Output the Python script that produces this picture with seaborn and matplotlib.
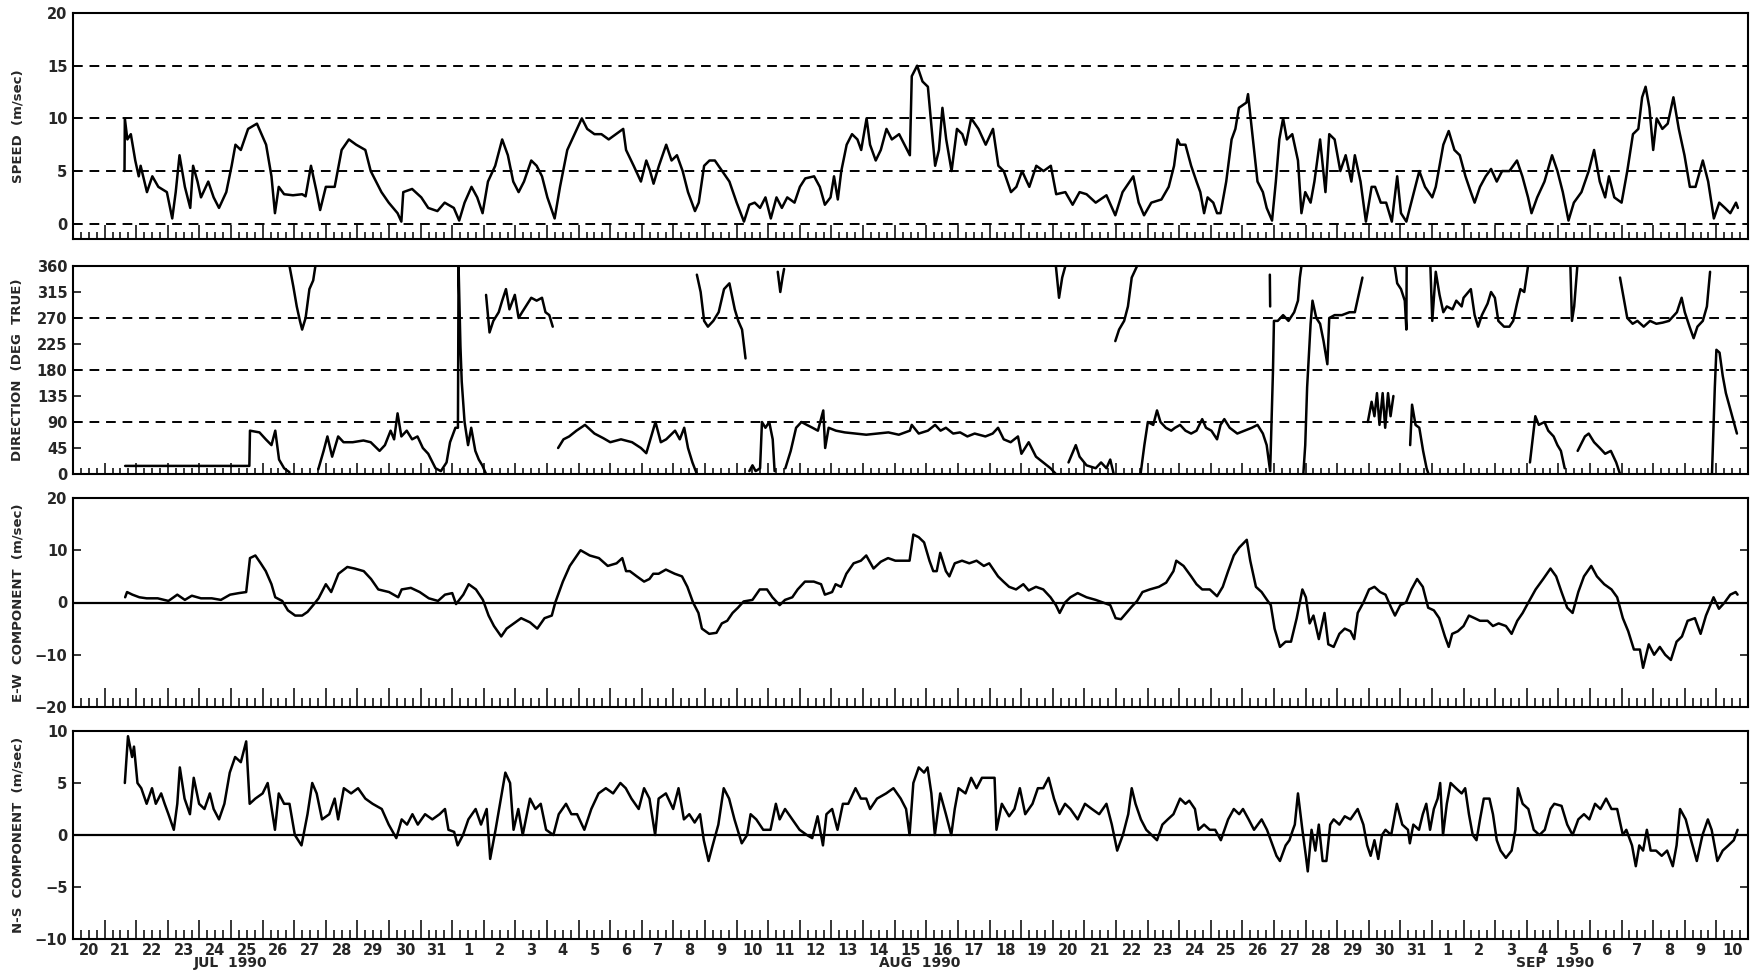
import numpy as np
import pandas as pd
import matplotlib
matplotlib.use("Agg")
import matplotlib.pyplot as plt
import matplotlib.transforms as mtransforms
import seaborn as sns

# ---------------- data: (days since 20 Jul 1990 00:00, value) ----------------
speed_obs = [(1.63,5.0),(1.64,10.0),(1.72,8.0),(1.83,8.5),(1.97,6.0),(2.08,4.5),(2.14,5.5),(2.34,3.0),(2.51,4.5),(2.7,3.5),(2.97,3.0),(3.14,0.5),(3.25,3.0),(3.37,6.5),(3.54,3.5),(3.71,1.5),(3.8,5.5),(3.94,4.0),(4.05,2.5),(4.28,4.0),(4.45,2.5),(4.62,1.5),(4.85,3.0),(5.02,5.5),(5.14,7.5),(5.31,7.0),(5.54,9.0),(5.82,9.5),(6.11,7.5),(6.28,4.5),(6.39,1.0),(6.51,3.5),(6.68,2.8),(6.96,2.7),(7.25,2.8),(7.36,2.6),(7.53,5.5),(7.71,3.0),(7.82,1.3),(8.0,3.5),(8.28,3.5),(8.5,7.0),(8.73,8.0),(8.96,7.5),(9.25,7.0),(9.42,5.0),(9.76,3.0),(9.99,2.0),(10.27,1.0),(10.39,0.2),(10.45,3.0),(10.73,3.3),(11.02,2.5),(11.24,1.5),(11.53,1.2),(11.76,2.0),(12.05,1.5),(12.22,0.3),(12.39,2.0),(12.61,3.5),(12.79,2.5),(12.96,1.0),(13.13,4.0),(13.36,5.5),(13.58,8.0),(13.76,6.5),(13.93,4.0),(14.1,3.0),(14.27,4.0),(14.5,6.0),(14.67,5.5),(14.84,4.5),(15.01,2.5),(15.24,0.5),(15.41,3.5),(15.64,7.0),(15.87,8.5),(16.1,10.0),(16.27,9.0),(16.5,8.5),(16.72,8.5),(16.95,8.0),(17.18,8.5),(17.41,9.0),(17.5,7.0),(17.74,5.5),(17.97,4.0),(18.14,6.0),(18.26,5.0),(18.37,3.8),(18.54,5.5),(18.77,7.5),(18.94,6.0),(19.11,6.5),(19.29,5.0),(19.46,3.0),(19.68,1.2),(19.8,2.0),(19.97,5.5),(20.14,6.0),(20.31,6.0),(20.54,5.0),(20.77,4.0),(21.0,2.0),(21.23,0.2),(21.4,1.8),(21.57,2.0),(21.74,1.5),(21.91,2.5),(22.08,0.5),(22.26,2.5),(22.43,1.5),(22.6,2.5),(22.83,2.0),(23.0,3.5),(23.17,4.3),(23.45,4.5),(23.63,3.5),(23.79,1.8),(23.97,2.5),(24.08,4.5),(24.2,2.3),(24.31,5.0),(24.48,7.5),(24.65,8.5),(24.82,8.0),(24.94,7.0),(25.11,10.0),(25.22,7.5),(25.4,6.0),(25.56,7.0),(25.74,9.0),(25.91,8.0),(26.14,8.5),(26.31,7.5),(26.48,6.5),(26.54,14.0),(26.71,15.0),(26.88,13.5),(27.05,13.0),(27.2,8.0),(27.28,5.5),(27.4,7.0),(27.51,11.0),(27.63,8.0),(27.8,5.0),(27.97,9.0),(28.14,8.5),(28.25,7.5),(28.42,10.0),(28.65,9.0),(28.88,7.5),(29.11,9.0),(29.28,5.5),(29.45,5.0),(29.68,3.0),(29.85,3.5),(30.03,5.0),(30.26,3.5),(30.48,5.5),(30.71,5.0),(30.94,5.5),(31.11,2.8),(31.4,3.0),(31.63,1.8),(31.85,3.0),(32.07,2.8),(32.36,2.0),(32.7,2.7),(32.98,0.8),(33.21,3.0),(33.55,4.5),(33.72,2.0),(33.89,0.8),(34.12,2.0),(34.44,2.3),(34.67,3.5),(34.84,5.5),(34.95,8.0),(35.03,7.5),(35.2,7.5),(35.38,5.5),(35.55,4.0),(35.67,3.0),(35.79,1.0),(35.9,2.5),(36.08,2.0),(36.2,1.0),(36.31,1.0),(36.49,4.0),(36.66,8.0),(36.78,9.0),(36.89,11.0),(37.13,11.5),(37.18,12.3),(37.3,9.0),(37.48,4.0),(37.65,3.0),(37.77,1.5),(37.94,0.3),(38.06,4.0),(38.17,8.0),(38.29,10.0),(38.41,8.0),(38.58,8.5),(38.76,6.0),(38.87,1.0),(38.99,3.0),(39.16,2.0),(39.28,4.0),(39.46,8.0),(39.63,3.0),(39.75,8.5),(39.92,8.0),(40.1,5.0),(40.27,6.5),(40.45,4.0),(40.56,6.5),(40.74,4.0),(40.91,0.2),(41.09,3.5),(41.2,3.5),(41.38,2.0),(41.55,2.0),(41.73,0.2),(41.9,4.5),(42.02,1.0),(42.19,0.2),(42.43,3.0),(42.6,5.0),(42.78,3.5),(43.01,2.5),(43.12,3.5),(43.36,7.5),(43.53,8.8),(43.71,7.0),(43.88,6.5),(44.06,4.5),(44.23,3.0),(44.35,2.0),(44.52,3.5),(44.7,4.5),(44.87,5.2),(45.05,4.0),(45.22,5.0),(45.45,5.0),(45.69,6.0),(45.86,4.5),(46.04,2.5),(46.15,1.0),(46.33,2.5),(46.56,4.0),(46.8,6.5),(46.97,5.0),(47.14,3.0),(47.32,0.3),(47.49,2.0),(47.73,3.0),(47.96,5.0),(48.13,7.0),(48.31,4.0),(48.48,2.5),(48.6,4.5),(48.77,2.5),(49.0,2.0),(49.18,5.0),(49.36,8.5),(49.53,9.0),(49.65,12.0),(49.76,13.0),(49.88,11.0),(50.0,7.0),(50.11,10.0),(50.29,9.0),(50.46,9.5),(50.64,12.0),(50.81,9.0),(50.99,6.5),(51.16,3.5),(51.34,3.5),(51.57,6.0),(51.74,4.0),(51.92,0.5),(52.09,2.0),(52.27,1.5),(52.44,1.0),(52.62,2.0),(52.68,1.5)]

GAP = (np.nan, np.nan)
direction_obs = [(1.65,14),(2.5,14),(3.5,14),(4.5,14),(5.58,14),(5.6,75),(5.9,72),(6.1,60),(6.28,50),(6.4,75),(6.52,25),(6.68,10),(6.85,3), GAP,
    (6.85,360),(6.97,325),(7.08,290),(7.18,265),(7.25,250),(7.36,270),(7.48,320),(7.6,335),(7.67,360), GAP,
    (7.76,8),(7.93,40),(8.05,65),(8.2,30),(8.39,65),(8.56,55),(8.85,55),(9.19,58),(9.42,55),(9.7,40),(9.87,50),(10.05,75),(10.16,60),(10.27,105),(10.39,65),(10.56,75),(10.73,60),(10.9,65),(11.07,45),(11.24,35),(11.47,10),(11.64,5),(11.82,20),(11.93,55),(12.1,80),(12.18,80),(12.2,360),(12.26,220),(12.3,160),(12.39,90),(12.5,50),(12.6,80),(12.73,40),(12.84,25),(12.95,15),(13.07,0), GAP,
    (13.07,310),(13.18,245),(13.3,265),(13.47,280),(13.58,300),(13.7,320),(13.81,285),(13.98,310),(14.1,270),(14.21,280),(14.5,305),(14.67,300),(14.84,305),(14.95,280),(15.07,275),(15.18,255), GAP,
    (15.35,45),(15.52,60),(15.7,65),(15.93,75),(16.2,85),(16.5,70),(16.78,62),(17.0,55),(17.34,60),(17.69,55),(17.97,45),(18.14,36),(18.43,90),(18.6,55),(18.77,60),(19.05,75),(19.2,60),(19.34,80),(19.46,45),(19.6,20),(19.74,0), GAP,
    (19.74,345),(19.86,315),(19.97,265),(20.09,255),(20.26,265),(20.43,280),(20.6,320),(20.77,330),(20.94,285),(21.05,265),(21.17,250),(21.28,200), GAP,
    (21.4,5),(21.5,15),(21.6,5),(21.74,10),(21.8,90),(21.91,80),(22.03,90),(22.14,60),(22.2,5), GAP,
    (22.3,350),(22.38,315),(22.45,340),(22.5,355), GAP,
    (22.54,10),(22.71,40),(22.88,80),(23.05,90),(23.22,85),(23.4,80),(23.57,75),(23.74,110),(23.8,45),(23.91,80),(24.14,75),(24.42,72),(24.76,70),(25.1,68),(25.45,70),(25.8,72),(26.13,68),(26.48,75),(26.54,85),(26.76,70),(27.05,75),(27.28,85),(27.45,75),(27.62,80),(27.85,70),(28.07,72),(28.3,65),(28.53,70),(28.87,65),(29.1,70),(29.27,80),(29.45,60),(29.67,55),(29.9,65),(30.01,35),(30.24,55),(30.47,30),(30.7,20),(30.93,10),(31.1,0), GAP,
    (31.1,360),(31.2,305),(31.3,340),(31.4,360), GAP,
    (31.5,20),(31.73,50),(31.85,30),(32.07,15),(32.36,10),(32.53,20),(32.7,10),(32.82,25),(32.93,0), GAP,
    (32.98,230),(33.1,250),(33.26,265),(33.38,290),(33.5,340),(33.67,360), GAP,
    (33.78,0),(33.9,50),(34.01,90),(34.18,85),(34.3,110),(34.41,90),(34.58,80),(34.75,75),(34.87,80),(35.03,85),(35.2,75),(35.38,70),(35.55,75),(35.73,95),(35.85,80),(36.02,75),(36.2,60),(36.31,85),(36.43,95),(36.6,80),(36.84,70),(37.07,75),(37.3,80),(37.48,85),(37.65,70),(37.77,50),(37.88,5),(37.97,180),(38.0,265),(38.12,265),(38.29,275),(38.46,265),(38.64,280),(38.76,300),(38.82,340),(38.87,360), GAP,
    (37.87,345),(37.88,290), GAP,
    (38.93,0),(38.99,50),(39.05,150),(39.16,260),(39.22,300),(39.34,270),(39.46,260),(39.57,230),(39.69,190),(39.75,270),(39.92,275),(40.15,275),(40.39,280),(40.56,280),(40.68,310),(40.8,340), GAP,
    (40.97,90),(41.09,125),(41.18,100),(41.26,140),(41.34,85),(41.44,140),(41.52,80),(41.61,140),(41.69,100),(41.78,135), GAP,
    (41.82,360),(41.9,330),(42.02,320),(42.14,300),(42.19,250),(42.2,360), GAP,
    (42.31,50),(42.37,120),(42.48,85),(42.6,80),(42.72,40),(42.83,10),(42.89,0), GAP,
    (42.95,360),(43.01,265),(43.12,350),(43.24,310),(43.36,280),(43.47,290),(43.65,285),(43.77,300),(43.94,290),(44.0,305),(44.23,320),(44.35,275),(44.46,255),(44.58,275),(44.76,295),(44.87,315),(44.99,305),(45.1,265),(45.28,255),(45.45,255),(45.57,265),(45.69,295),(45.8,320),(45.92,315),(46.04,360), GAP,
    (46.1,20),(46.27,100),(46.38,85),(46.56,90),(46.68,75),(46.85,65),(46.97,50),(47.08,40),(47.2,10), GAP,
    (47.38,360),(47.43,265),(47.5,290),(47.6,360), GAP,
    (47.61,40),(47.84,65),(47.96,70),(48.13,55),(48.31,45),(48.48,35),(48.66,40),(48.83,20),(48.95,0), GAP,
    (48.95,340),(49.18,270),(49.35,260),(49.5,265),(49.7,255),(49.9,265),(50.1,260),(50.3,262),(50.5,265),(50.75,280),(50.9,305),(51.0,280),(51.15,255),(51.28,235),(51.4,255),(51.57,265),(51.7,290),(51.8,350), GAP,
    (51.86,0),(51.95,150),(52.0,215),(52.1,210),(52.2,170),(52.3,140),(52.45,110),(52.55,90),(52.65,70)]

ew_obs = [(1.65,1.0),(1.71,2.0),(1.88,1.5),(2.1,1.0),(2.33,0.8),(2.68,0.8),(3.02,0.3),(3.3,1.5),(3.54,0.5),(3.76,1.3),(4.05,0.8),(4.39,0.8),(4.68,0.5),(4.97,1.5),(5.25,1.8),(5.48,2.0),(5.6,8.5),(5.77,9.0),(5.94,7.5),(6.1,6.0),(6.28,3.5),(6.4,1.0),(6.62,0.3),(6.8,-1.5),(7.03,-2.5),(7.25,-2.5),(7.42,-1.8),(7.6,-0.5),(7.77,0.8),(8.0,3.5),(8.17,2.0),(8.4,5.5),(8.68,6.8),(8.91,6.5),(9.2,6.0),(9.43,4.5),(9.66,2.5),(10.0,2.0),(10.29,1.0),(10.4,2.5),(10.69,2.8),(10.97,2.0),(11.26,0.8),(11.55,0.3),(11.77,1.5),(12.0,1.8),(12.12,-0.3),(12.35,1.5),(12.52,3.5),(12.75,2.5),(12.97,0.5),(13.15,-2.5),(13.32,-4.5),(13.55,-6.5),(13.72,-5.0),(13.95,-4.0),(14.18,-3.0),(14.46,-3.8),(14.69,-5.0),(14.92,-3.0),(15.15,-2.5),(15.26,0.0),(15.5,4.0),(15.72,7.0),(16.06,10.0),(16.35,9.0),(16.64,8.5),(16.92,7.0),(17.2,7.5),(17.38,8.5),(17.5,6.0),
    (17.62,6.0),(17.84,5.0),(18.07,4.0),(18.24,4.5),(18.36,5.5),(18.53,5.5),(18.76,6.3),(19.04,5.5),(19.27,5.0),(19.44,3.0),(19.62,0.0),(19.79,-2.0),(19.9,-5.0),(20.13,-6.0),(20.36,-5.8),(20.53,-4.0),(20.7,-3.5),(20.87,-2.0),(21.04,-1.0),(21.22,0.2),(21.5,0.5),(21.73,2.5),(21.96,2.5),(22.13,1.0),(22.36,-0.5),(22.53,0.5),(22.76,1.0),(22.93,2.5),(23.16,4.0),(23.44,4.0),(23.67,3.5),(23.79,1.5),(24.02,2.0),(24.13,3.5),(24.3,3.0),(24.47,5.5),(24.7,7.5),(24.93,8.0),(25.1,9.0),(25.33,6.5),(25.56,7.8),(25.79,8.5),(26.02,8.0),(26.3,8.0),(26.47,8.0),(26.59,13.0),(26.76,12.5),(26.93,11.5),(27.1,8.0),(27.22,6.0),(27.33,6.0),(27.44,9.5),(27.62,6.0),(27.73,5.0),(27.9,7.5),(28.13,8.0),(28.36,7.5),(28.59,8.0),(28.82,7.0),(28.99,7.5),(29.16,6.0),(29.27,5.0),(29.44,4.0),(29.62,3.0),(29.84,2.5),(30.07,3.5),(30.24,2.3),(30.47,3.0),(30.7,2.5),(30.93,1.0),(31.1,-0.5),(31.22,-2.0),(31.39,0.0),(31.56,1.0),(31.79,1.8),(32.07,1.0),(32.36,0.5),(32.59,0.0),(32.82,-0.5),(32.99,-3.0),(33.16,-3.2),(33.33,-2.0),(33.5,-0.8),(33.67,0.3),(33.84,2.0),(34.07,2.5),(34.36,3.0),(34.59,3.8),(34.82,6.0),
    (34.91,8.0),(35.14,7.0),(35.38,5.0),(35.55,3.5),(35.73,2.5),(35.97,2.5),(36.2,1.2),(36.38,3.0),(36.55,6.0),(36.73,9.0),(36.9,10.5),(37.14,12.0),(37.25,8.0),(37.43,3.0),(37.61,2.0),(37.78,0.5),(37.9,-0.5),(38.02,-5.0),(38.19,-8.5),(38.37,-7.5),(38.54,-7.5),(38.72,-3.0),(38.9,2.5),(39.01,1.0),(39.13,-4.0),(39.25,-2.5),(39.42,-7.0),(39.6,-2.0),(39.72,-8.0),(39.89,-8.5),(40.07,-6.0),(40.24,-5.0),(40.42,-5.5),(40.54,-7.0),(40.65,-2.0),(40.83,0.0),(41.01,2.5),(41.18,3.0),(41.36,2.0),(41.53,1.5),(41.71,-1.0),(41.83,-2.5),(42.0,-0.5),(42.18,0.0),(42.35,2.5),(42.53,4.5),(42.71,3.0),(42.88,-1.0),(43.06,-1.5),(43.23,-3.0),(43.41,-6.5),(43.53,-8.5),(43.64,-6.0),(43.82,-5.5),(44.0,-4.5),(44.17,-2.5),(44.35,-3.0),(44.52,-3.5),(44.76,-3.5),(44.93,-4.5),(45.11,-4.0),(45.34,-4.5),(45.52,-6.0),(45.7,-3.5),(45.87,-2.0),(46.05,0.0),(46.28,2.5),(46.52,4.5),(46.75,6.5),(46.93,5.0),(47.1,2.0),(47.28,-1.0),(47.45,-2.0),(47.63,2.0),(47.81,5.0),(48.04,7.0),(48.22,5.0),(48.45,3.5),(48.68,2.5),(48.86,1.0),(49.04,-3.0),(49.21,-5.5),(49.39,-9.0),(49.58,-9.0),(49.68,-12.5),(49.86,-8.0),(50.03,-10.0),(50.21,-8.5),(50.38,-10.0),(50.56,-11.0),(50.74,-7.5),(50.91,-6.5),(51.09,-3.5),(51.32,-3.0),(51.5,-6.0),(51.67,-2.5),(51.91,1.0),(52.08,-1.2),(52.26,0.0),(52.44,1.5),(52.61,2.0),(52.67,1.5)]

ns_obs = [(1.64,5.0),(1.74,9.5),(1.87,7.5),(1.93,8.5),(2.04,5.0),(2.16,4.5),(2.33,3.0),(2.5,4.5),(2.62,3.0),(2.79,4.0),(2.9,3.0),(3.02,2.0),(3.19,0.5),(3.3,3.0),(3.38,6.5),(3.53,3.5),(3.7,2.0),(3.82,5.5),(3.99,3.0),(4.16,2.5),(4.33,4.0),(4.45,2.5),(4.62,1.5),(4.79,3.0),(4.96,6.0),(5.13,7.5),(5.31,7.0),(5.48,9.0),(5.59,3.0),(5.77,3.5),(6.0,4.0),(6.16,5.0),(6.39,0.5),(6.51,4.0),(6.68,3.0),(6.85,3.0),(7.02,0.0),(7.23,-1.0),(7.42,2.0),(7.57,5.0),(7.71,4.0),(7.88,1.5),(8.11,2.0),(8.28,3.5),(8.39,1.5),(8.57,4.5),(8.8,4.0),(9.02,4.5),(9.25,3.5),(9.48,3.0),(9.77,2.5),(9.99,1.0),(10.23,-0.3),(10.4,1.5),(10.57,1.0),(10.74,2.0),(10.91,1.0),(11.14,2.0),(11.37,1.5),(11.6,2.0),(11.77,2.5),(11.88,0.5),(12.06,0.3),(12.17,-1.0),(12.34,0.0),(12.51,1.5),(12.74,2.5),(12.91,1.0),(13.09,2.5),(13.2,-2.3),(13.37,0.5),(13.54,3.5),(13.68,6.0),(13.83,5.0),(13.94,0.5),(14.09,2.5),(14.23,0.0),(14.46,3.5),(14.63,2.5),(14.8,3.0),(14.97,0.5),(15.2,0.0),(15.37,2.0),(15.6,3.0),(15.77,2.0),(15.95,2.0),(16.18,0.5),(16.4,2.5),(16.63,4.0),(16.86,4.5),(17.09,4.0),(17.32,5.0),(17.49,4.5),
    (17.67,3.5),(17.9,2.5),(18.07,4.5),(18.24,3.5),(18.42,0.0),(18.53,3.5),(18.76,4.0),(18.99,2.5),(19.16,4.5),(19.33,1.5),(19.5,2.0),(19.67,1.2),(19.84,2.0),(19.96,-0.5),(20.11,-2.5),(20.24,-1.0),(20.42,1.0),(20.59,4.5),(20.76,3.5),(20.93,1.5),(21.16,-0.8),(21.33,0.0),(21.44,2.0),(21.62,1.5),(21.84,0.5),(22.07,0.5),(22.24,3.0),(22.36,1.5),(22.53,2.5),(22.76,1.5),(22.99,0.5),(23.22,0.0),(23.39,-0.3),(23.56,1.8),(23.67,0.0),(23.73,-1.0),(23.84,2.0),(24.02,2.5),(24.19,0.5),(24.36,3.0),(24.53,3.0),(24.76,4.5),(24.93,3.5),(25.1,3.5),(25.22,2.5),(25.44,3.5),(25.73,4.0),(25.96,4.5),(26.19,3.5),(26.36,2.5),(26.47,0.0),(26.59,5.0),(26.76,6.5),(26.93,6.0),(27.04,6.5),(27.16,4.0),(27.27,0.0),(27.44,4.0),(27.62,2.0),(27.79,0.0),(27.9,2.5),(28.02,4.5),(28.24,4.0),(28.42,5.5),(28.59,4.5),(28.76,5.5),(28.99,5.5),(29.16,5.5),(29.22,0.5),(29.39,3.0),(29.62,1.8),(29.79,2.5),(29.96,4.5),(30.13,2.0),(30.36,3.0),(30.53,4.5),(30.7,4.5),(30.87,5.5),(31.04,3.5),(31.21,2.0),(31.39,3.0),(31.56,2.5),(31.79,1.5),(32.02,3.0),(32.24,2.5),(32.47,2.0),(32.7,3.0),(32.87,1.0),(33.04,-1.5),(33.22,0.0),(33.39,2.0),(33.5,4.5),(33.62,3.0),(33.79,1.5),(33.96,0.5),(34.13,0.0),(34.3,-0.5),(34.47,1.0),(34.64,1.5),(34.82,2.0),
    (35.03,3.5),(35.2,3.0),(35.32,3.3),(35.5,2.5),(35.61,0.5),(35.79,1.0),(35.97,0.5),(36.14,0.5),(36.32,-0.5),(36.55,1.5),(36.73,2.5),(36.9,2.0),(37.02,2.5),(37.2,1.5),(37.37,0.5),(37.61,1.5),(37.78,0.5),(37.96,-1.0),(38.08,-2.0),(38.19,-2.5),(38.37,-1.0),(38.49,-0.5),(38.6,0.5),(38.66,1.0),(38.76,4.0),(38.9,0.5),(39.01,-2.0),(39.07,-3.5),(39.19,0.5),(39.31,-1.5),(39.42,1.0),(39.54,-2.5),(39.66,-2.5),(39.78,1.0),(39.89,1.5),(40.07,1.0),(40.24,1.8),(40.42,1.5),(40.65,2.5),(40.83,1.0),(40.95,-1.0),(41.06,-2.0),(41.18,-0.5),(41.3,-2.3),(41.42,0.0),(41.53,0.5),(41.71,0.0),(41.89,3.0),(42.06,1.0),(42.24,0.5),(42.3,-0.8),(42.41,1.0),(42.59,0.5),(42.71,2.0),(42.82,3.0),(42.94,0.5),(43.06,2.5),(43.18,3.5),(43.26,5.0),(43.35,0.0),(43.47,3.0),(43.59,5.0),(43.76,4.5),(43.94,4.0),(44.05,4.5),(44.17,2.0),(44.29,0.0),(44.41,-0.5),(44.52,1.5),(44.64,3.5),(44.82,3.5),(44.93,2.0),(45.05,-0.5),(45.17,-1.5),(45.34,-2.2),(45.52,-1.5),(45.64,0.5),(45.72,4.5),(45.87,3.0),(46.05,2.5),(46.22,0.5),(46.4,0.0),(46.57,0.5),(46.75,2.5),(46.87,3.0),(47.1,2.8),(47.28,1.0),(47.45,0.0),(47.63,1.5),(47.81,2.0),(47.98,1.5),(48.16,3.0),(48.33,2.5),(48.51,3.5),(48.68,2.5),(48.86,2.5),(49.04,0.0),(49.15,0.5),(49.33,-1.0),(49.45,-3.0),(49.56,-1.0),(49.68,-1.5),(49.8,0.5),(49.92,-1.5),(50.09,-1.5),(50.27,-2.0),(50.44,-1.5),(50.62,-3.0),(50.74,-1.0),(50.85,2.5),(51.03,1.5),(51.2,-0.5),(51.38,-2.5),(51.56,0.0),(51.73,1.5),(51.85,0.5),(52.03,-2.5),(52.2,-1.5),(52.38,-1.0),(52.55,-0.5),(52.67,0.5)]

first_day = pd.Timestamp("1990-07-20")
n_days = 53
month_labels = ["JUL  1990", "AUG  1990", "SEP  1990"]
month_label_day = [5.0, 26.8, 46.9]
speed_ticks = [0, 5, 10, 15, 20]
speed_ref = [0, 5, 10, 15]
dir_ticks = [0, 45, 90, 135, 180, 225, 270, 315, 360]
dir_ref = [90, 180, 270]
ew_ticks = [-20, -10, 0, 10, 20]
ns_ticks = [-10, -5, 0, 5, 10]

# ---------------- figure ----------------
sns.set_theme(style="white")
plt.rcParams["font.family"] = ["DejaVu Sans"]
plt.rcParams["font.weight"] = "bold"

W_PX, H_PX = 1757, 975
fig = plt.figure(figsize=(W_PX / 100, H_PX / 100), dpi=100)
LEFT, RIGHT = 73, 1748

def box(top, bottom):
    return [LEFT / W_PX, 1 - bottom / H_PX, (RIGHT - LEFT) / W_PX, (bottom - top) / H_PX]

ax_s = fig.add_axes(box(13, 239))
ax_d = fig.add_axes(box(266, 474))
ax_e = fig.add_axes(box(498, 707))
ax_n = fig.add_axes(box(731, 939))

def frame(pairs):
    return pd.DataFrame(pairs, columns=["day", "val"])

line_kw = dict(color="black", linewidth=1.8, estimator=None, sort=False)

sns.lineplot(data=frame(speed_obs), x="day", y="val", ax=ax_s, **line_kw)
ddf = frame(direction_obs)
ddf["seg"] = ddf["val"].isna().cumsum()
ddf = ddf.dropna()
sns.lineplot(data=ddf, x="day", y="val", units="seg", ax=ax_d, **line_kw)
sns.lineplot(data=frame(ew_obs), x="day", y="val", ax=ax_e, **line_kw)
sns.lineplot(data=frame(ns_obs), x="day", y="val", ax=ax_n, **line_kw)

for v in speed_ref:
    ax_s.axhline(v, color="black", lw=1.4, ls=(0, (5, 3.5)), zorder=1)
for v in dir_ref:
    ax_d.axhline(v, color="black", lw=1.4, ls=(0, (5, 3.5)), zorder=1)
ax_e.axhline(0, color="black", lw=1.6, zorder=1)
ax_n.axhline(0, color="black", lw=1.6, zorder=1)

ax_s.set_ylim(-1.45, 20)
ax_d.set_ylim(0, 360)
ax_e.set_ylim(-20, 20)
ax_n.set_ylim(-10, 10)

ax_s.set_yticks(speed_ticks)
ax_d.set_yticks(dir_ticks)
ax_e.set_yticks(ew_ticks)
ax_n.set_yticks(ns_ticks)

dates = [first_day + pd.Timedelta(days=i) for i in range(n_days)]
day_labels = [str(d.day) for d in dates]
midnights = np.arange(1, n_days)
quarter = []
quarter_lab = []
for i in range(n_days):
    for q, lab in ((0.25, ""), (0.5, day_labels[i]), (0.75, "")):
        quarter.append(i + q)
        quarter_lab.append(lab)

tall = {ax_s: 10, ax_d: 8, ax_e: 13.5, ax_n: 13.5}
short = {ax_s: 5, ax_d: 4, ax_e: 6.5, ax_n: 6.5}

for ax in (ax_s, ax_d, ax_e, ax_n):
    ax.set_xlim(0, n_days)
    ax.set_xticks(midnights)
    ax.set_xticklabels([])
    ax.set_xticks(quarter, minor=True)
    if ax is ax_n:
        ax.set_xticklabels(quarter_lab, minor=True)
    else:
        ax.set_xticklabels([""] * len(quarter), minor=True)
    ax.tick_params(axis="x", which="major", direction="in", length=tall[ax], width=1.3, bottom=True, top=False)
    ax.tick_params(axis="x", which="minor", direction="in", length=short[ax], width=1.3, bottom=True, top=False,
                   labelsize=10.5, pad=3)
    for sp in ax.spines.values():
        sp.set_visible(True)
        sp.set_color("black")
        sp.set_linewidth(1.5)
    ax.set_xlabel("")
    ax.set_facecolor("white")

ax_s.tick_params(axis="y", which="major", length=0, labelsize=10.5, pad=4, left=True, right=False)
for ax in (ax_d, ax_e, ax_n):
    ax.tick_params(axis="y", which="major", direction="in", length=6, width=1.3, left=True, right=True,
                   labelsize=10.5, pad=4)

ylabels = {ax_s: "SPEED  (m/sec)", ax_d: "DIRECTION  (DEG  TRUE)",
           ax_e: "E-W  COMPONENT  (m/sec)", ax_n: "N-S  COMPONENT  (m/sec)"}
for ax, lab in ylabels.items():
    ax.set_ylabel(lab, fontsize=9.5, fontweight="bold")
    ax.yaxis.set_label_coords(-0.029, 0.5)

trans = mtransforms.blended_transform_factory(ax_n.transData, ax_n.transAxes)
for d, lab in zip(month_label_day, month_labels):
    ax_n.text(d, -0.115, lab, transform=trans, ha="center", va="center", fontsize=10, fontweight="bold")

fig.savefig("out.png", dpi=100, facecolor="white")
